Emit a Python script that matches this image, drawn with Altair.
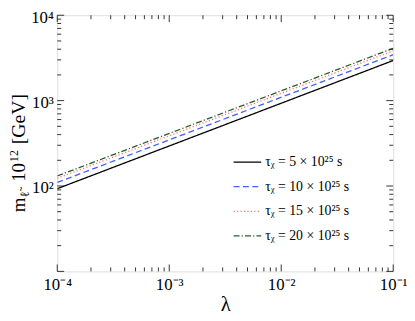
import json
import altair as alt
import pandas as pd

# ---- data ----
lam = [1e-4, 1e-1]
m_tau5 = [93, 2950]
m_tau10 = [110, 3450]
m_tau15 = [123, 3830]
m_tau20 = [131, 4100]

series_labels = ["τᵪ = 5 × 10²⁵ s", "τᵪ = 10 × 10²⁵ s",
                 "τᵪ = 15 × 10²⁵ s", "τᵪ = 20 × 10²⁵ s"]
series_colors = ["#000000", "#3f5fff", "#ff6f6f", "#2c5a2c"]
series_dashes = [[1, 0], [6, 3.5], [1.2, 2.3], [6, 2.2, 1.2, 2.2]]

x_major = [1e-4, 1e-3, 1e-2, 1e-1]
x_minor = [k * 10.0 ** e for e in (-4, -3, -2) for k in range(2, 10)]
x_tick_labels = ["10⁻⁴", "10⁻³", "10⁻²", "10⁻¹"]
y_major = [1e1, 1e2, 1e3, 1e4]
y_minor = [k * 10.0 ** e for e in (1, 2, 3) for k in range(2, 10)]
y_label_values = [1e2, 1e3, 1e4]
y_tick_labels = ["10²", "10³", "10⁴"]

W, H = 341, 260
SERIF = "Liberation Serif"

rows = []
for lab, ys in zip(series_labels, [m_tau5, m_tau10, m_tau15, m_tau20]):
    for xv, yv in zip(lam, ys):
        rows.append({"lam": xv, "m": yv, "series": lab})
df = pd.DataFrame(rows)

xscale = alt.Scale(type="log", domain=[1e-4, 1e-1], nice=False)
yscale = alt.Scale(type="log", domain=[1e1, 1e4], nice=False)

xlab_expr = f"{json.dumps(x_tick_labels)}[round(log(datum.value)/LN10) + 4]"
ylab_expr = f"{json.dumps(y_tick_labels)}[round(log(datum.value)/LN10) - 2]"

x_axis = alt.Axis(
    values=x_major, labelExpr=xlab_expr, ticks=False, domain=False, grid=False,
    labelFont=SERIF, labelFontSize=17, labelColor="black", labelPadding=5,
    title="λ", titleFont=SERIF, titleFontSize=21, titleFontWeight="normal",
    titleColor="black", titlePadding=2, labelFlush=False)
y_axis = alt.Axis(
    values=y_label_values, labelExpr=ylab_expr, ticks=False, domain=False, grid=False,
    labelFont=SERIF, labelFontSize=17, labelColor="black", labelPadding=4,
    labelOffset=2, title="", labelFlush=False)

legend = alt.Legend(title=None, orient="none", legendX=178, legendY=134,
                    symbolType="stroke", symbolSize=784, symbolStrokeWidth=1.3,
                    labelFont=SERIF, labelFontSize=14, labelColor="black",
                    labelOffset=3, rowPadding=3, padding=0)

lines = alt.Chart(df).mark_line(strokeWidth=1.3, clip=True).encode(
    x=alt.X("lam:Q", scale=xscale, axis=x_axis, title="λ"),
    y=alt.Y("m:Q", scale=yscale, axis=y_axis, title=""),
    color=alt.Color("series:N", scale=alt.Scale(domain=series_labels, range=series_colors),
                    legend=legend),
    strokeDash=alt.StrokeDash("series:N", scale=alt.Scale(domain=series_labels, range=series_dashes),
                              legend=legend),
)


def xticks(vals, size):
    d = pd.DataFrame({"lam": vals})
    b = alt.Chart(d).mark_rule(color="black", strokeWidth=0.8).encode(
        x=alt.X("lam:Q", scale=xscale, axis=x_axis, title="λ"), y=alt.value(H), y2=alt.value(H - size))
    t = alt.Chart(d).mark_rule(color="black", strokeWidth=0.8).encode(
        x=alt.X("lam:Q", scale=xscale, axis=x_axis, title="λ"), y=alt.value(0), y2=alt.value(size))
    return [b, t]


def yticks(vals, size):
    d = pd.DataFrame({"m": vals})
    l = alt.Chart(d).mark_rule(color="black", strokeWidth=0.8).encode(
        y=alt.Y("m:Q", scale=yscale, axis=y_axis, title=""), x=alt.value(0), x2=alt.value(size))
    r = alt.Chart(d).mark_rule(color="black", strokeWidth=0.8).encode(
        y=alt.Y("m:Q", scale=yscale, axis=y_axis, title=""), x=alt.value(W), x2=alt.value(W - size))
    return [l, r]


tick_layers = xticks(x_major, 7) + xticks(x_minor, 4) + yticks(y_major, 7) + yticks(y_minor, 4)

# y-axis title composed of pieces (rotated, reading bottom to top)
title_parts = [
    ("m", 19, -33, 200),
    ("ℓ̃", 13, -29, 185),
    ("10", 19, -33, 169),
    ("12", 12, -40, 149),
    ("[GeV]", 20, -33, 131),
]
title_layers = []
for txt, fs, px, py in title_parts:
    title_layers.append(
        alt.Chart(pd.DataFrame({"s": [txt]})).mark_text(
            angle=270, align="left", baseline="alphabetic", font=SERIF,
            fontSize=fs, color="black").encode(
            text="s:N", x=alt.value(px), y=alt.value(py)))

chart = alt.layer(lines, *tick_layers, *title_layers).resolve_scale(
    color="shared", strokeDash="shared"
).properties(
    width=W, height=H,
    autosize=alt.AutoSizeParams(type="none"),
    padding={"left": 50, "top": 5, "right": 14, "bottom": 47},
).configure_view(stroke="black", strokeWidth=1.2).configure(background="white")

chart.save("out.html", embed_options={"renderer": "svg", "actions": False})
